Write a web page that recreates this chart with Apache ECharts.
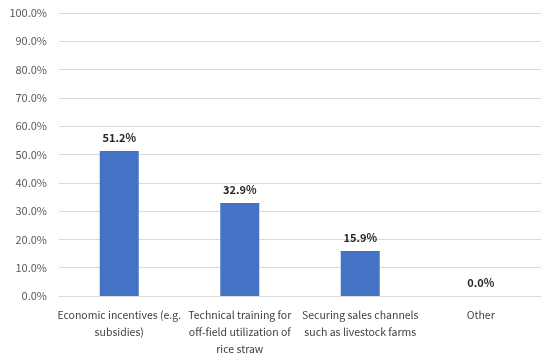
<!DOCTYPE html>
<html>
<head>
<meta charset="utf-8">
<script src="https://cdn.jsdelivr.net/npm/echarts@6/dist/echarts.min.js"></script>
<style>
  html, body { margin: 0; padding: 0; background: #fff; }
  #chart { width: 541px; height: 358px; }
</style>
</head>
<body>
<div id="chart"></div>
<script>
// Categories (line breaks as wrapped on the axis)
const categories = [
  'Economic incentives (e.g.\nsubsidies)',
  'Technical training for\noff-field utilization of\nrice straw',
  'Securing sales channels\nsuch as livestock farms',
  'Other'
];
// Share of respondents, percent
const shares = [51.2, 32.9, 15.9, 0.0];
// Value axis range and step, percent
const axisMin = 0;
const axisMax = 100;
const axisStep = 10;

const font = '"Noto Sans CJK KR", "Noto Sans", sans-serif';
const chart = echarts.init(document.getElementById('chart'), null, { renderer: 'canvas' });
chart.setOption({
  animation: false,
  grid: { left: 59, top: 13, width: 487, height: 284, containLabel: false },
  xAxis: {
    type: 'category',
    data: categories,
    axisLine: { show: true, lineStyle: { color: '#d9d9d9', width: 1 } },
    axisTick: { show: false },
    axisLabel: {
      interval: 0,
      color: '#404040',
      fontFamily: font,
      fontSize: 10.5,
      lineHeight: 17,
      margin: 11
    }
  },
  yAxis: {
    type: 'value',
    min: axisMin,
    max: axisMax,
    interval: axisStep,
    axisLine: { show: false },
    axisTick: { show: false },
    splitLine: { lineStyle: { color: '#d9d9d9', width: 1 } },
    axisLabel: {
      color: '#595959',
      fontFamily: font,
      fontSize: 11,
      margin: 12,
      formatter: v => v.toFixed(1) + '%'
    }
  },
  series: [{
    type: 'bar',
    data: shares,
    barWidth: 39,
    itemStyle: { color: '#4472c4' },
    label: {
      show: true,
      position: 'top',
      distance: 8,
      color: '#262626',
      fontFamily: font,
      fontSize: 11,
      fontWeight: 'bold',
      formatter: p => p.value.toFixed(1) + '%'
    }
  }]
});
</script>
</body>
</html>
